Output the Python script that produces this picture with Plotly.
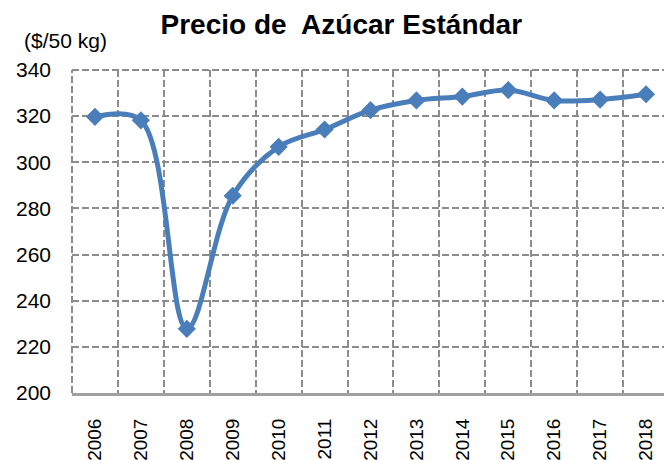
import plotly.graph_objects as go

years = ["2006", "2007", "2008", "2009", "2010", "2011", "2012",
         "2013", "2014", "2015", "2016", "2017", "2018"]
prices = [319.7, 318.2, 227.8, 285.5, 306.7, 314.2, 322.6,
          326.8, 328.5, 331.3, 326.8, 327.2, 329.5]
y_ticks = [200, 220, 240, 260, 280, 300, 320, 340]

fig = go.Figure()
fig.add_trace(go.Scatter(
    x=years, y=prices, mode="lines+markers",
    line=dict(color="#4A7EBB", width=5, shape="spline", smoothing=1.0),
    marker=dict(symbol="diamond", size=14, color="#4A7EBB"),
    showlegend=False, cliponaxis=False,
))

grid = "#8C8C8C"
dash = "7px,3px"
# the page body adds an 8px margin, so the figure is sized 664x452
fig.update_layout(
    width=664, height=452,
    margin=dict(l=64, r=3, t=62, b=67),
    paper_bgcolor="white", plot_bgcolor="white",
    font=dict(family="Liberation Sans, Arial, sans-serif", color="black"),
    title=dict(text="<b>Precio de  Azúcar Estándar</b>", x=0.502, xanchor="center",
               xref="container", yref="container",
               y=0.965, yanchor="middle",
               font=dict(family="Liberation Sans, Arial", size=28, color="black")),
    xaxis=dict(
        type="category", range=[-0.5, 12.5], tickson="boundaries",
        showgrid=True, gridcolor=grid, griddash=dash, gridwidth=2,
        showline=True, linecolor="#A0A0A0", linewidth=3,
        ticks="", automargin=False,
        tickangle=-90, tickfont=dict(size=19, family="Liberation Sans, Arial"),
        ticklabelstandoff=15,
    ),
    yaxis=dict(
        range=[200, 340], tickvals=y_ticks, ticktext=[str(v) for v in y_ticks],
        showgrid=True, gridcolor=grid, griddash=dash, gridwidth=2,
        zeroline=False, showline=False, automargin=False,
        tickfont=dict(size=21, family="Liberation Sans, Arial"),
        ticklabelstandoff=20,
    ),
    annotations=[dict(text="($/50 kg)", xref="paper", yref="paper",
                      x=-0.084, y=1.0, xanchor="left", yanchor="middle", yshift=30,
                      showarrow=False, font=dict(size=21, family="Liberation Sans, Arial"))],
)
for x0, x1, y0, y1 in [(0, 0, 0, 1), (1, 1, 0, 1), (0, 1, 1, 1)]:
    fig.add_shape(type="line", xref="paper", yref="paper", x0=x0, x1=x1, y0=y0, y1=y1,
                  line=dict(color=grid, width=2, dash=dash), layer="below")
fig.write_html("out.html")
